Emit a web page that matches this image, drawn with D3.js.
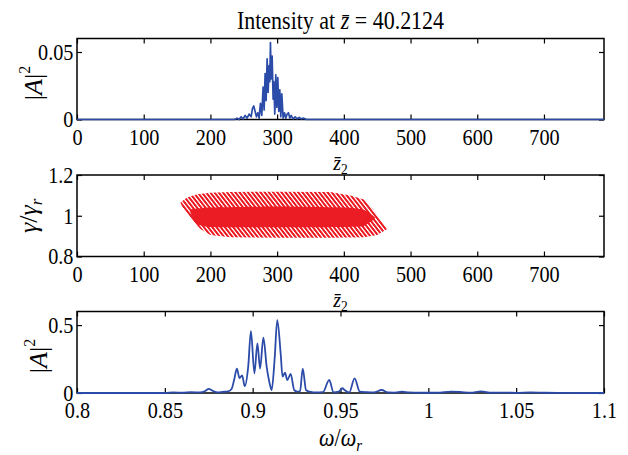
<!DOCTYPE html>
<html>
<head>
<meta charset="utf-8">
<script src="https://cdn.jsdelivr.net/npm/d3@7"></script>
<style>
  body { margin: 0; background: #fff; }
  text { font-family: "Liberation Serif", "Times New Roman", serif; fill: #000; }
</style>
</head>
<body>
<div id="chart"></div>
<script>
// ---- data ----

// top panel: intensity along the bunch
const z1 = [0, 236, 240, 243, 246, 249, 252, 255, 258, 261,
  263, 265, 267, 269, 271, 273, 275, 277, 279, 280.5,
  282, 283.5, 285, 286.5, 288, 289, 290, 291, 292.5, 294,
  295, 296.5, 298, 299.5, 301, 302.5, 304, 305.5, 307, 309,
  311, 313, 315, 317, 319, 321, 324, 327, 330, 333,
  336, 340, 344, 790];
const A1 = [0, 0, 0.001, 0, 0.002, 0.0005, 0.003, 0.001, 0.004, 0.002,
  0.008, 0.010, 0.006, 0.002, 0.005, 0.001, 0.012, 0.003, 0.024, 0.007,
  0.034, 0.014, 0.045, 0.02, 0.04, 0.028, 0.057, 0.03, 0.047, 0.015,
  0.028, 0.004, 0.033, 0.009, 0.031, 0.006, 0.022, 0.002, 0.019, 0.001,
  0.005, 0.001, 0.004, 0.005, 0.001, 0.003, 0.0005, 0.002, 0.0005, 0.0015,
  0.0005, 0.001, 0, 0];

// middle panel: phase space outline (hatched band) and its solid core
const envZ = [155, 165, 180, 200, 230, 300, 380, 410, 430, 443, 455, 465,
  450, 430, 380, 300, 230, 200, 185, 170, 158];
const envG = [1.065, 1.09, 1.105, 1.113, 1.117, 1.118, 1.117, 1.1, 1.08, 1.035, 0.98, 0.935,
  0.905, 0.895, 0.892, 0.892, 0.895, 0.905, 0.935, 0.99, 1.04];
const coreZ = [170, 200, 300, 400, 430, 447, 430, 400, 300, 200, 180, 172];
const coreG = [1.03, 1.04, 1.045, 1.04, 1.03, 0.99, 0.95, 0.945, 0.943, 0.945, 0.96, 1.0];

// bottom panel: spectrum
const w3 = [0.8, 0.85, 0.855, 0.86, 0.865, 0.87, 0.873, 0.875, 0.877, 0.88,
  0.883, 0.886, 0.888, 0.8895, 0.891, 0.8925, 0.894, 0.8955, 0.8975, 0.899,
  0.901, 0.9027, 0.9042, 0.9061, 0.908, 0.9095, 0.9108, 0.9125, 0.914, 0.916,
  0.917, 0.9184, 0.9197, 0.9216, 0.9237, 0.9255, 0.927, 0.9285, 0.9304, 0.933,
  0.936, 0.94, 0.9436, 0.946, 0.949, 0.951, 0.9525, 0.955, 0.958, 0.961,
  0.965, 0.969, 0.9734, 0.977, 0.981, 0.985, 0.989, 0.995, 1.005, 1.013,
  1.018, 1.024, 1.03, 1.036, 1.045, 1.05, 1.058, 1.066, 1.075, 1.1];
const A3 = [0, 0, 0.004, 0.002, 0.006, 0.004, 0.015, 0.03, 0.018, 0.004,
  0.008, 0.012, 0.03, 0.1, 0.18, 0.11, 0.13, 0.05, 0.2, 0.456,
  0.145, 0.366, 0.18, 0.407, 0.19, 0.08, 0.022, 0.25, 0.537, 0.28,
  0.12, 0.15, 0.095, 0.14, 0.02, 0.01, 0.015, 0.18, 0.02, 0.008,
  0.004, 0.006, 0.096, 0.005, 0.01, 0.035, 0.02, 0.004, 0.108, 0.01,
  0.006, 0.004, 0.022, 0.004, 0.003, 0.01, 0.004, 0.002, 0.002, 0.01,
  0.008, 0.002, 0.012, 0.002, 0.003, 0.001, 0.004, 0.002, 0.001, 0];

// ticks
const zTicks = [0, 100, 200, 300, 400, 500, 600, 700];
const zTickLabels = ["0", "100", "200", "300", "400", "500", "600", "700"];
const wTicks = [0.8, 0.85, 0.9, 0.95, 1, 1.05, 1.1];
const wTickLabels = ["0.8", "0.85", "0.9", "0.95", "1", "1.05", "1.1"];
const a1Ticks = [0, 0.05], a1TickLabels = ["0", "0.05"];
const gTicks = [0.8, 1, 1.2], gTickLabels = ["0.8", "1", "1.2"];
const a3Ticks = [0, 0.5], a3TickLabels = ["0", "0.5"];

// ---- layout ----
const width = 628, height = 455;
const left = 77, right = 604;
const blue = "#2b4ba8", red = "#ec1c24";
const fs = 23, squeeze = 0.88;

const svg = d3.select("#chart").append("svg")
  .attr("width", width).attr("height", height);

const defs = svg.append("defs");

function panel(top, bottom, x, y, xt, xl, yt, yl) {
  const g = svg.append("g");
  g.append("rect")
    .attr("x", left).attr("y", top)
    .attr("width", right - left).attr("height", bottom - top)
    .attr("fill", "#fff");

  g.append("g")
    .attr("transform", `translate(0,${bottom})`)
    .call(d3.axisBottom(x).tickValues(xt).tickFormat((d, i) => xl[i])
      .tickSizeInner(-5).tickSizeOuter(0).tickPadding(9));
  g.append("g")
    .attr("transform", `translate(0,${top})`)
    .call(d3.axisTop(x).tickValues(xt).tickFormat("")
      .tickSizeInner(-5).tickSizeOuter(0));
  g.append("g")
    .attr("transform", `translate(${left},0)`)
    .call(d3.axisLeft(y).tickValues(yt).tickFormat((d, i) => yl[i])
      .tickSizeInner(-5).tickSizeOuter(0).tickPadding(4));
  g.append("g")
    .attr("transform", `translate(${right},0)`)
    .call(d3.axisRight(y).tickValues(yt).tickFormat("")
      .tickSizeInner(-5).tickSizeOuter(0));

  g.selectAll(".domain").remove();
  g.selectAll(".tick line").attr("stroke", "#000").attr("stroke-width", 1.2);
  g.selectAll(".tick text")
    .attr("transform", `scale(${squeeze},1)`)
    .style("font-size", fs + "px")
    .style("font-family", "'Liberation Serif', serif");

  const plot = g.append("g");

  g.append("rect")
    .attr("x", left).attr("y", top)
    .attr("width", right - left).attr("height", bottom - top)
    .attr("fill", "none").attr("stroke", "#000").attr("stroke-width", 1.5);

  return { g, plot };
}

// condensed text centred at (cx, y)
function label(cx, y, size, sx) {
  return svg.append("text")
    .attr("transform", `translate(${cx},${y}) scale(${sx},1)`)
    .attr("text-anchor", "middle")
    .style("font-size", size + "px");
}

// ---- panel 1 ----
const x1 = d3.scaleLinear().domain([0, 790]).range([left, right]);
const y1 = d3.scaleLinear().domain([0, 0.06]).range([119.5, 38.5]);
panel(38.5, 119.5, x1, y1, zTicks, zTickLabels, a1Ticks, a1TickLabels);
svg.append("path")
  .datum(z1.map((d, i) => [d, A1[i]]))
  .attr("fill", "none").attr("stroke", blue).attr("stroke-width", 1.7)
  .attr("stroke-linejoin", "round")
  .attr("d", d3.line().x(d => x1(d[0])).y(d => y1(d[1])));

label((left + right) / 2, 29, 25, 0.88)
  .call(t => {
    t.append("tspan").text("Intensity at ");
    t.append("tspan").style("font-style", "italic").text("z\u0304");
    t.append("tspan").text(" = 40.2124");
  });

function zLabel(yb) {
  label((left + right) / 2, yb, 22, 0.9)
    .call(t => {
      t.append("tspan").style("font-style", "italic").text("z\u0304");
      t.append("tspan").attr("dy", 4).style("font-size", "15px").text("2");
    });
}
zLabel(169.5);

function ampLabel(bx, cy) {
  svg.append("text")
    .attr("transform", `translate(${bx},${cy}) rotate(-90)`)
    .attr("text-anchor", "middle")
    .style("font-size", "26px")
    .call(t => {
      t.append("tspan").text("|");
      t.append("tspan").style("font-style", "italic").text("A");
      t.append("tspan").text("|");
      t.append("tspan").attr("dy", -12).style("font-size", "16px").text("2");
    });
}
ampLabel(42, 83);

// ---- panel 2 ----
const y2 = d3.scaleLinear().domain([0.8, 1.2]).range([256.5, 175]);
const p2 = panel(175, 256.5, x1, y2, zTicks, zTickLabels, gTicks, gTickLabels);

const stripePeriod = x1(2 * Math.PI) - x1(0);
const pat = defs.append("pattern")
  .attr("id", "hatch")
  .attr("patternUnits", "userSpaceOnUse")
  .attr("width", stripePeriod).attr("height", 20)
  .attr("patternTransform", "skewX(38)");
pat.append("rect")
  .attr("width", stripePeriod * 0.62).attr("height", 20)
  .attr("fill", red);

const poly = d3.line().x(d => x1(d[0])).y(d => y2(d[1])).curve(d3.curveLinearClosed);
p2.plot.append("path")
  .datum(envZ.map((d, i) => [d, envG[i]]))
  .attr("fill", "url(#hatch)")
  .attr("d", poly);
p2.plot.append("path")
  .datum(coreZ.map((d, i) => [d, coreG[i]]))
  .attr("fill", red)
  .attr("d", poly.curve(d3.curveCardinalClosed.tension(0.6)));

zLabel(306.5);

svg.append("text")
  .attr("transform", "translate(37,215.75) rotate(-90)")
  .attr("text-anchor", "middle")
  .style("font-size", "26px")
  .call(t => {
    t.append("tspan").style("font-style", "italic").text("\u03b3");
    t.append("tspan").text("/");
    t.append("tspan").style("font-style", "italic").text("\u03b3");
    t.append("tspan").attr("dy", 5).style("font-size", "17px").style("font-style", "italic").text("r");
  });

// ---- panel 3 ----
const x3 = d3.scaleLinear().domain([0.8, 1.1]).range([left, right]);
const y3 = d3.scaleLinear().domain([0, 0.6]).range([393, 311.5]);
panel(311.5, 393, x3, y3, wTicks, wTickLabels, a3Ticks, a3TickLabels);
svg.append("path")
  .datum(w3.map((d, i) => [d, A3[i]]))
  .attr("fill", "none").attr("stroke", blue).attr("stroke-width", 1.8)
  .attr("d", d3.line().x(d => x3(d[0])).y(d => y3(d[1])).curve(d3.curveMonotoneX));

label((left + right) / 2, 446, 25, 0.88)
  .call(t => {
    t.append("tspan").style("font-style", "italic").text("\u03c9");
    t.append("tspan").text("/");
    t.append("tspan").style("font-style", "italic").text("\u03c9");
    t.append("tspan").attr("dy", 5).style("font-size", "17px").style("font-style", "italic").text("r");
  });

ampLabel(47, 356);
</script>
</body>
</html>
